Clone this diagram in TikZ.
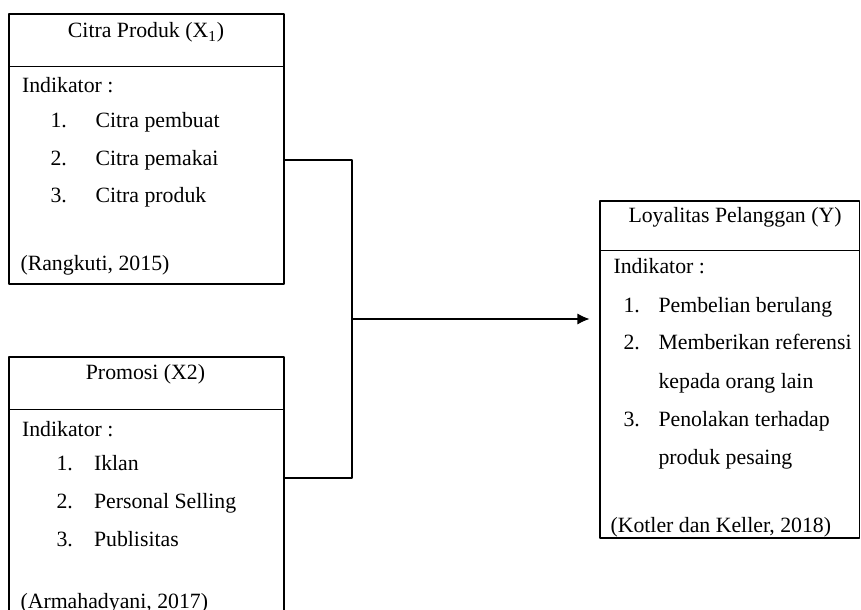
\documentclass[tikz,border=0pt]{standalone}
\usepackage{fontspec}
\setmainfont{Liberation Serif}
\usetikzlibrary{arrows.meta,calc,positioning}

\begin{document}
\begin{tikzpicture}[line width=0.6pt, line join=round, x=1mm,y=1mm,
    font=\fontsize{12.4pt}{15pt}\selectfont,
    box/.style={draw, rectangle, inner sep=0pt},
    txt/.style={anchor=base west, inner sep=0pt},
    head/.style={anchor=base, inner sep=0pt}]
  \useasboundingbox (0,0) rectangle (172.2,122);

  % the three boxes, each with a title row
  \node[box, minimum width=55mm, minimum height=54mm] (citra) at (29.3,92.2) {};
  \node[box, minimum width=55mm, minimum height=53.6mm] (promosi) at (29.3,23.8) {};
  \node[box, minimum width=51.9mm, minimum height=67.4mm] (loyal) at (145.95,48.1) {};
  \draw ([yshift=-10.6mm]citra.north west) -- ([yshift=-10.6mm]citra.north east);
  \draw ([yshift=-10.6mm]promosi.north west) -- ([yshift=-10.6mm]promosi.north east);
  \draw ([yshift=-10mm]loyal.north west) -- ([yshift=-10mm]loyal.north east);

  % Citra Produk
  \node[head] (citraT) at (29.2,114.4) {Citra Produk (X\textsubscript{1})};
  \node[txt] (citraI) at (4.3,103.4) {Indikator :};
  \foreach \t [count=\i] in {Citra pembuat, Citra pemakai, Citra produk} {
    \node[txt] (citraN\i) at (10,96.4-7.5*\i+7.5) {\i.};
    \node[txt] (citra\i) at (19,96.4-7.5*\i+7.5) {\t};
  }
  \node[txt] (citraR) at (4,67.8) {(Rangkuti, 2015)};

  % Promosi
  \node[head] (promosiT) at (29.1,46) {Promosi (X2)};
  \node[txt] (promosiI) at (4.3,34.6) {Indikator :};
  \foreach \t [count=\i] in {Iklan, Personal Selling, Publisitas} {
    \node[txt] (promosiN\i) at (11.2,27.8-7.6*\i+7.6) {\i.};
    \node[txt] (promosi\i) at (18.7,27.8-7.6*\i+7.6) {\t};
  }
  \node[txt] (promosiR) at (4,0.2) {(Armahadyani, 2017)};

  % Loyalitas Pelanggan
  \node[head] (loyalT) at (147,77.4) {Loyalitas Pelanggan (Y)};
  \node[txt] (loyalI) at (122.6,67.2) {Indikator :};
  \node[txt] (loyalN1) at (124.6,59.4) {1.};
  \node[txt] (loyal1) at (131.6,59.4) {Pembelian berulang};
  \node[txt] (loyalN2) at (124.6,52.0) {2.};
  \node[txt] (loyal2) at (131.6,52.0) {Memberikan referensi};
  \node[txt] (loyal2b) at (131.6,44.2) {kepada orang lain};
  \node[txt] (loyalN3) at (124.6,36.6) {3.};
  \node[txt] (loyal3) at (131.6,36.6) {Penolakan terhadap};
  \node[txt] (loyal3b) at (131.6,29.0) {produk pesaing};
  \node[txt] (loyalR) at (122,15.4) {(Kotler dan Keller, 2018)};

  % connectors
  \coordinate (citraOut) at ([yshift=-2.2mm]citra.east);
  \coordinate (promosiOut) at ([yshift=2.6mm]promosi.east);
  \coordinate (bus) at (70.4,58.2);
  \draw (citraOut) -| (bus) |- (promosiOut);
  \draw[-{Latex[length=2.4mm,width=2.2mm]}, shorten >=2mm] (bus) -- (bus -| loyal.west);
\end{tikzpicture}
\end{document}
